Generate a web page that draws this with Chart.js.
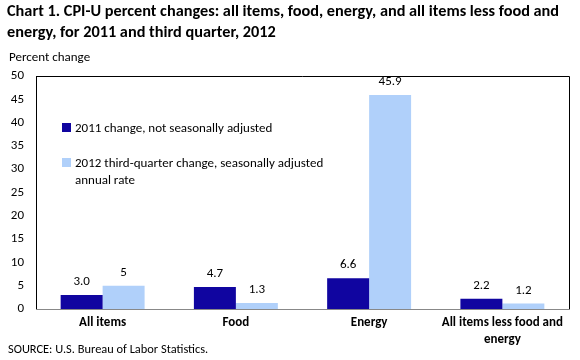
<!DOCTYPE html>
<html>
<head>
<meta charset="utf-8">
<script src="https://cdn.jsdelivr.net/npm/chart.js@4.4.0/dist/chart.umd.min.js"></script>
<style>
  html, body { margin: 0; padding: 0; background: #fff; }
  body { width: 580px; height: 360px; position: relative; overflow: hidden; font-family: Carlito, "Open Sans", "Noto Sans", sans-serif; color: #000; }
  #wrap { position: absolute; left: 0; top: 0; width: 580px; height: 360px; }
  .title { position: absolute; left: 7px; top: 0px; font-weight: bold; font-size: 16.3px; line-height: 21px; white-space: nowrap; }
  .ytitle { position: absolute; left: 9px; top: 49px; font-size: 13px; font-weight: normal; white-space: nowrap; }
  .source { position: absolute; left: 8px; top: 341px; font-size: 12.4px; white-space: nowrap; }
  .leg { position: absolute; left: 62px; font-size: 13px; line-height: 17px; white-space: nowrap; }
  .leg .sw { position: absolute; left: 0; top: 4px; width: 9px; height: 9px; }
  .leg .tx { position: absolute; left: 13px; top: 0; }
</style>
</head>
<body>
<div id="wrap"><canvas id="c" width="580" height="360"></canvas></div>
<div class="title">Chart 1. CPI-U percent changes: all items, food, energy, and all items less food and<br>energy, for 2011 and third quarter, 2012</div>
<div class="ytitle">Percent change</div>
<div class="source">SOURCE: U.S. Bureau of Labor Statistics.</div>
<div class="leg" style="top:119px;"><span class="sw" style="background:#1005a0"></span><span class="tx">2011 change, not seasonally adjusted</span></div>
<div class="leg" style="top:154px;"><span class="sw" style="background:#b0d0fa"></span><span class="tx">2012 third-quarter change, seasonally adjusted<br>annual rate</span></div>
<script>
const categories = ["All items", "Food", "Energy", ["All items less food and", "energy"]];
const series2011 = [3.0, 4.7, 6.6, 2.2];
const series2012 = [5, 1.3, 45.9, 1.2];
const labels2011 = ["3.0", "4.7", "6.6", "2.2"];
const labels2012 = ["5", "1.3", "45.9", "1.2"];
const seriesNames = ["2011 change, not seasonally adjusted", "2012 third-quarter change, seasonally adjusted annual rate"];
const yTicks = [0, 5, 10, 15, 20, 25, 30, 35, 40, 45, 50];

const FONT = 'Carlito, "Open Sans", "Noto Sans", sans-serif';

const labelPlugin = {
  id: 'valueLabels',
  afterDatasetsDraw(chart) {
    const ctx = chart.ctx;
    const texts = [labels2011, labels2012];
    ctx.save();
    ctx.font = '13px ' + FONT;
    ctx.fillStyle = '#000';
    ctx.textAlign = 'center';
    ctx.textBaseline = 'middle';
    chart.data.datasets.forEach((ds, di) => {
      chart.getDatasetMeta(di).data.forEach((bar, i) => {
        ctx.fillText(texts[di][i], bar.x, bar.y - 13);
      });
    });
    ctx.restore();
  }
};

const framePlugin = {
  id: 'frame',
  afterDraw(chart) {
    const a = chart.chartArea;
    const ctx = chart.ctx;
    ctx.save();
    ctx.strokeStyle = '#000';
    ctx.lineWidth = 1;
    ctx.beginPath();
    ctx.moveTo(a.left, a.top + 0.5);
    ctx.lineTo(Math.round(a.right) + 0.5, a.top + 0.5);
    ctx.lineTo(Math.round(a.right) + 0.5, a.bottom);
    ctx.stroke();
    ctx.strokeStyle = '#888';
    ctx.beginPath();
    ctx.moveTo(a.left, Math.round(a.bottom) + 0.5);
    ctx.lineTo(Math.round(a.right) + 1, Math.round(a.bottom) + 0.5);
    ctx.stroke();
    ctx.restore();
  }
};

new Chart(document.getElementById('c'), {
  type: 'bar',
  data: {
    labels: categories,
    datasets: [
      { label: seriesNames[0], data: series2011, backgroundColor: '#1005a0', borderWidth: 0 },
      { label: seriesNames[1], data: series2012, backgroundColor: '#b0d0fa', borderWidth: 0 }
    ]
  },
  options: {
    responsive: false,
    animation: false,
    devicePixelRatio: 1,
    layout: { padding: { top: 76, right: 11, left: 0, bottom: 0 } },
    plugins: { legend: { display: false }, tooltip: { enabled: false }, title: { display: false } },
    datasets: { bar: { categoryPercentage: 0.63, barPercentage: 1.0 } },
    scales: {
      x: {
        grid: { display: false, drawTicks: false },
        border: { display: false },
        ticks: { color: '#000', font: { family: FONT, size: 13, weight: 'bold', lineHeight: 1.25 }, padding: 6, maxRotation: 0, autoSkip: false },
        afterFit(s) { s.height = 51; }
      },
      y: {
        min: 0, max: 50,
        afterBuildTicks(s) { s.ticks = yTicks.map(v => ({ value: v })); },
        grid: { display: false, drawOnChartArea: false, drawTicks: true, tickLength: 4, color: '#000' },
        border: { display: true, color: '#000', width: 1 },
        ticks: { color: '#000', font: { family: FONT, size: 13 }, padding: 8 },
        afterFit(s) { s.width = 36; }
      }
    }
  },
  plugins: [labelPlugin, framePlugin]
});
</script>
</body>
</html>
